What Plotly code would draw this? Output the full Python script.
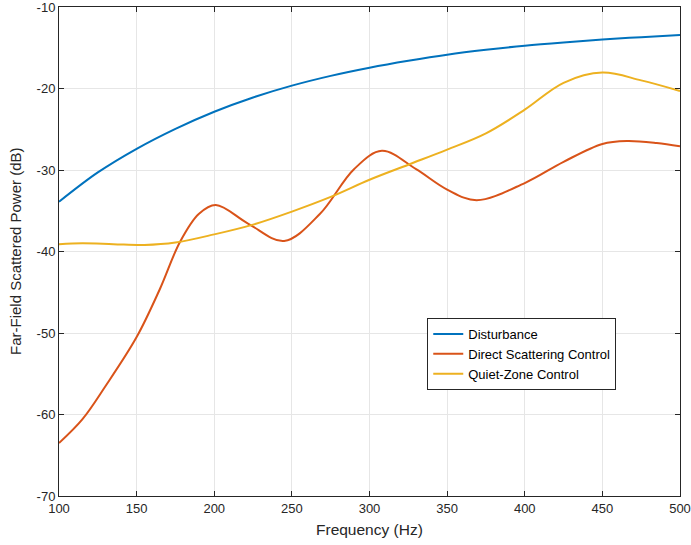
import plotly.graph_objects as go

freq_dist = [100,125,150,175,200,225,250,275,300,325,350,375,400,425,450,475,500]
disturbance = [-33.9,-30.3,-27.4,-24.95,-22.85,-21.1,-19.65,-18.45,-17.45,-16.6,-15.85,-15.25,-14.75,-14.35,-14.0,-13.7,-13.45]

freq_direct = [100,115,130,150,165,178,190,201,222,245,268,290,308,330,350,369,400,425,450,466,485,500]
direct = [-63.5,-60.6,-56.5,-50.5,-44.6,-38.8,-35.4,-34.3,-36.6,-38.7,-35.4,-29.9,-27.65,-29.9,-32.4,-33.7,-31.6,-29.0,-26.8,-26.45,-26.7,-27.1]

freq_quiet = [100,115,135,155,175,200,225,250,275,300,325,350,375,400,425,450,475,500]
quiet = [-39.1,-39.0,-39.1,-39.2,-38.9,-37.9,-36.7,-35.1,-33.3,-31.2,-29.35,-27.5,-25.5,-22.6,-19.3,-18.05,-19.0,-20.3]

x_ticks = [100,150,200,250,300,350,400,450,500]
y_ticks = [-70,-60,-50,-40,-30,-20,-10]

fig = go.Figure()
fig.add_trace(go.Scatter(x=freq_dist, y=disturbance, mode="lines", name="Disturbance",
                         line=dict(color="#0072BD", width=2, shape="spline", smoothing=1)))
fig.add_trace(go.Scatter(x=freq_direct, y=direct, mode="lines", name="Direct Scattering Control",
                         line=dict(color="#D95319", width=2, shape="spline", smoothing=1)))
fig.add_trace(go.Scatter(x=freq_quiet, y=quiet, mode="lines", name="Quiet-Zone Control",
                         line=dict(color="#EDB120", width=2, shape="spline", smoothing=1)))

axis_common = dict(showgrid=True, gridcolor="#E6E6E6", gridwidth=1, showline=True,
                   linecolor="#262626", linewidth=1, mirror="ticks", ticks="inside",
                   ticklen=5, tickcolor="#262626", zeroline=False, automargin=False,
                   ticklabeloverflow="allow",
                   tickfont=dict(family="Liberation Sans, Arial", size=13, color="#262626"))

fig.update_layout(
    width=691, height=545,
    margin=dict(l=59, r=11, t=7, b=49),
    paper_bgcolor="white", plot_bgcolor="white",
    font=dict(family="Liberation Sans, Arial", size=13, color="#262626"),
    xaxis=dict(range=[100, 500], tickvals=x_ticks, ticktext=[str(v) for v in x_ticks], **axis_common),
    yaxis=dict(range=[-70, -10], tickvals=y_ticks, ticktext=[str(v) for v in y_ticks], **axis_common),
    legend=dict(x=0.593, y=0.364, xanchor="left", yanchor="top",
                bgcolor="white", bordercolor="#262626", borderwidth=1,
                font=dict(family="Liberation Sans, Arial", size=13, color="black"),
                tracegroupgap=0, itemwidth=30),
    showlegend=True,
    annotations=[
        dict(text="Frequency (Hz)", xref="paper", yref="paper", x=0.5, y=-0.068,
             xanchor="center", yanchor="middle", showarrow=False,
             font=dict(family="Liberation Sans, Arial", size=15.5, color="#262626")),
        dict(text="Far-Field Scattered Power (dB)", xref="paper", yref="paper", x=-0.07, y=0.5,
             xanchor="center", yanchor="middle", showarrow=False, textangle=-90,
             font=dict(family="Liberation Sans, Arial", size=15, color="#262626")),
    ],
)

fig.write_html("out.html")
